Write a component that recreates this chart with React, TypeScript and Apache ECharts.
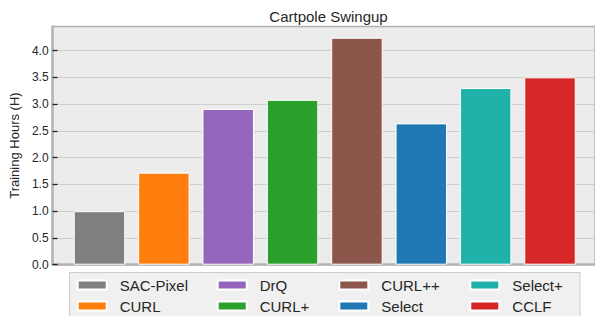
import React, { useEffect, useRef } from "react";
import * as echarts from "echarts";

const categories = ["SAC-Pixel", "CURL", "DrQ", "CURL+", "CURL++", "Select", "Select+", "CCLF"];
const hours = [1.0, 1.72, 2.91, 3.08, 4.24, 2.64, 3.3, 3.5];
const barColors = ["#7f7f7f", "#ff7f0e", "#9467bd", "#2ca02c", "#8c564b", "#1f77b4", "#20b2aa", "#d62728"];
const legendColumns = [
  ["SAC-Pixel", "CURL"],
  ["DrQ", "CURL+"],
  ["CURL++", "Select"],
  ["Select+", "CCLF"],
];
const legendLefts = [76.7, 216.7, 338.3, 469.3];
const yMax = 4.45;

const FONT = "'Liberation Sans', Arial, Helvetica, sans-serif";
const TEXT = "#262626";

export default function App() {
  const ref = useRef<HTMLDivElement>(null);
  useEffect(() => {
    if (!ref.current) return;
    const chart = echarts.init(ref.current, undefined, { renderer: "svg" });
    const gridTop = 26.5;
    const gridHeight = 238.2;
    const series = categories.map((name, i) => ({
      name,
      type: "bar",
      xAxisIndex: 1,
      yAxisIndex: 1,
      stack: "all",
      barWidth: "80%",
      data: categories.map((_, j) => (j === i ? hours[i] : "-")),
      itemStyle: { color: barColors[i], borderColor: "#ffffff", borderWidth: 1 },
    }));
    chart.setOption({
      animation: false,
      textStyle: { fontFamily: FONT },
      title: {
        text: "Cartpole Swingup",
        left: 264.3,
        top: 4,
        textStyle: { fontFamily: FONT, fontSize: 15, fontWeight: "normal", color: TEXT },
      },
      grid: [
        {
          left: 49.3,
          width: 552,
          top: gridTop,
          height: gridHeight,
          show: true,
          backgroundColor: "#ececec",
          borderColor: "#b4b4b4",
          borderWidth: 1.5,
        },
        { left: 67.3, width: 514.9, top: gridTop, height: gridHeight },
      ],
      xAxis: [
        {
          gridIndex: 0,
          type: "value",
          min: 0,
          max: 1,
          axisLabel: { show: false },
          axisTick: { show: false },
          splitLine: { show: false },
          axisLine: { show: true, lineStyle: { color: "#b4b4b4", width: 2.5 } },
        },
        {
          gridIndex: 1,
          type: "category",
          data: categories,
          show: false,
        },
      ],
      yAxis: [
        {
          gridIndex: 0,
          type: "value",
          min: 0,
          max: yMax,
          interval: 0.5,
          name: "Training Hours (H)",
          nameLocation: "middle",
          nameGap: 27,
          nameTextStyle: { fontFamily: FONT, fontSize: 13, color: TEXT },
          axisLine: { show: true, lineStyle: { color: "#b4b4b4", width: 2.5 } },
          axisTick: { show: true, inside: true, length: 5, lineStyle: { color: "#222", width: 1.3 } },
          axisLabel: {
            fontFamily: FONT,
            fontSize: 12,
            color: TEXT,
            margin: 4,
            showMaxLabel: false,
            formatter: (v: number) => (v > 4.01 ? "" : v.toFixed(1)),
          },
          splitLine: { show: true, lineStyle: { color: "#b0b0b0", type: "dotted", width: 1 } },
        },
        {
          gridIndex: 1,
          type: "value",
          min: 0,
          max: yMax,
          show: false,
          splitLine: { show: false },
        },
      ],
      legend: legendColumns.map((names, k) => ({
        data: names,
        orient: "vertical",
        left: legendLefts[k],
        top: 277.5,
        height: 60,
        width: 130,
        padding: 0,
        itemWidth: 29,
        itemHeight: 9,
        itemGap: 6,
        icon: "rect",
        selectedMode: false,
        textStyle: { fontFamily: FONT, fontSize: 15, color: TEXT, padding: [0, 0, 0, 8] },
      })),
      graphic: [
        {
          type: "rect",
          z: -1,
          shape: { x: 69.5, y: 272.5, width: 510.5, height: 60 },
          style: { fill: "#f0f0f0", stroke: "#cccccc", lineWidth: 1 },
        },
      ],
      series,
    });
    return () => chart.dispose();
  }, []);
  return (
    <div
      ref={ref}
      style={{ position: "absolute", left: 0, top: 0, width: 595, height: 316, background: "#ffffff" }}
    />
  );
}
